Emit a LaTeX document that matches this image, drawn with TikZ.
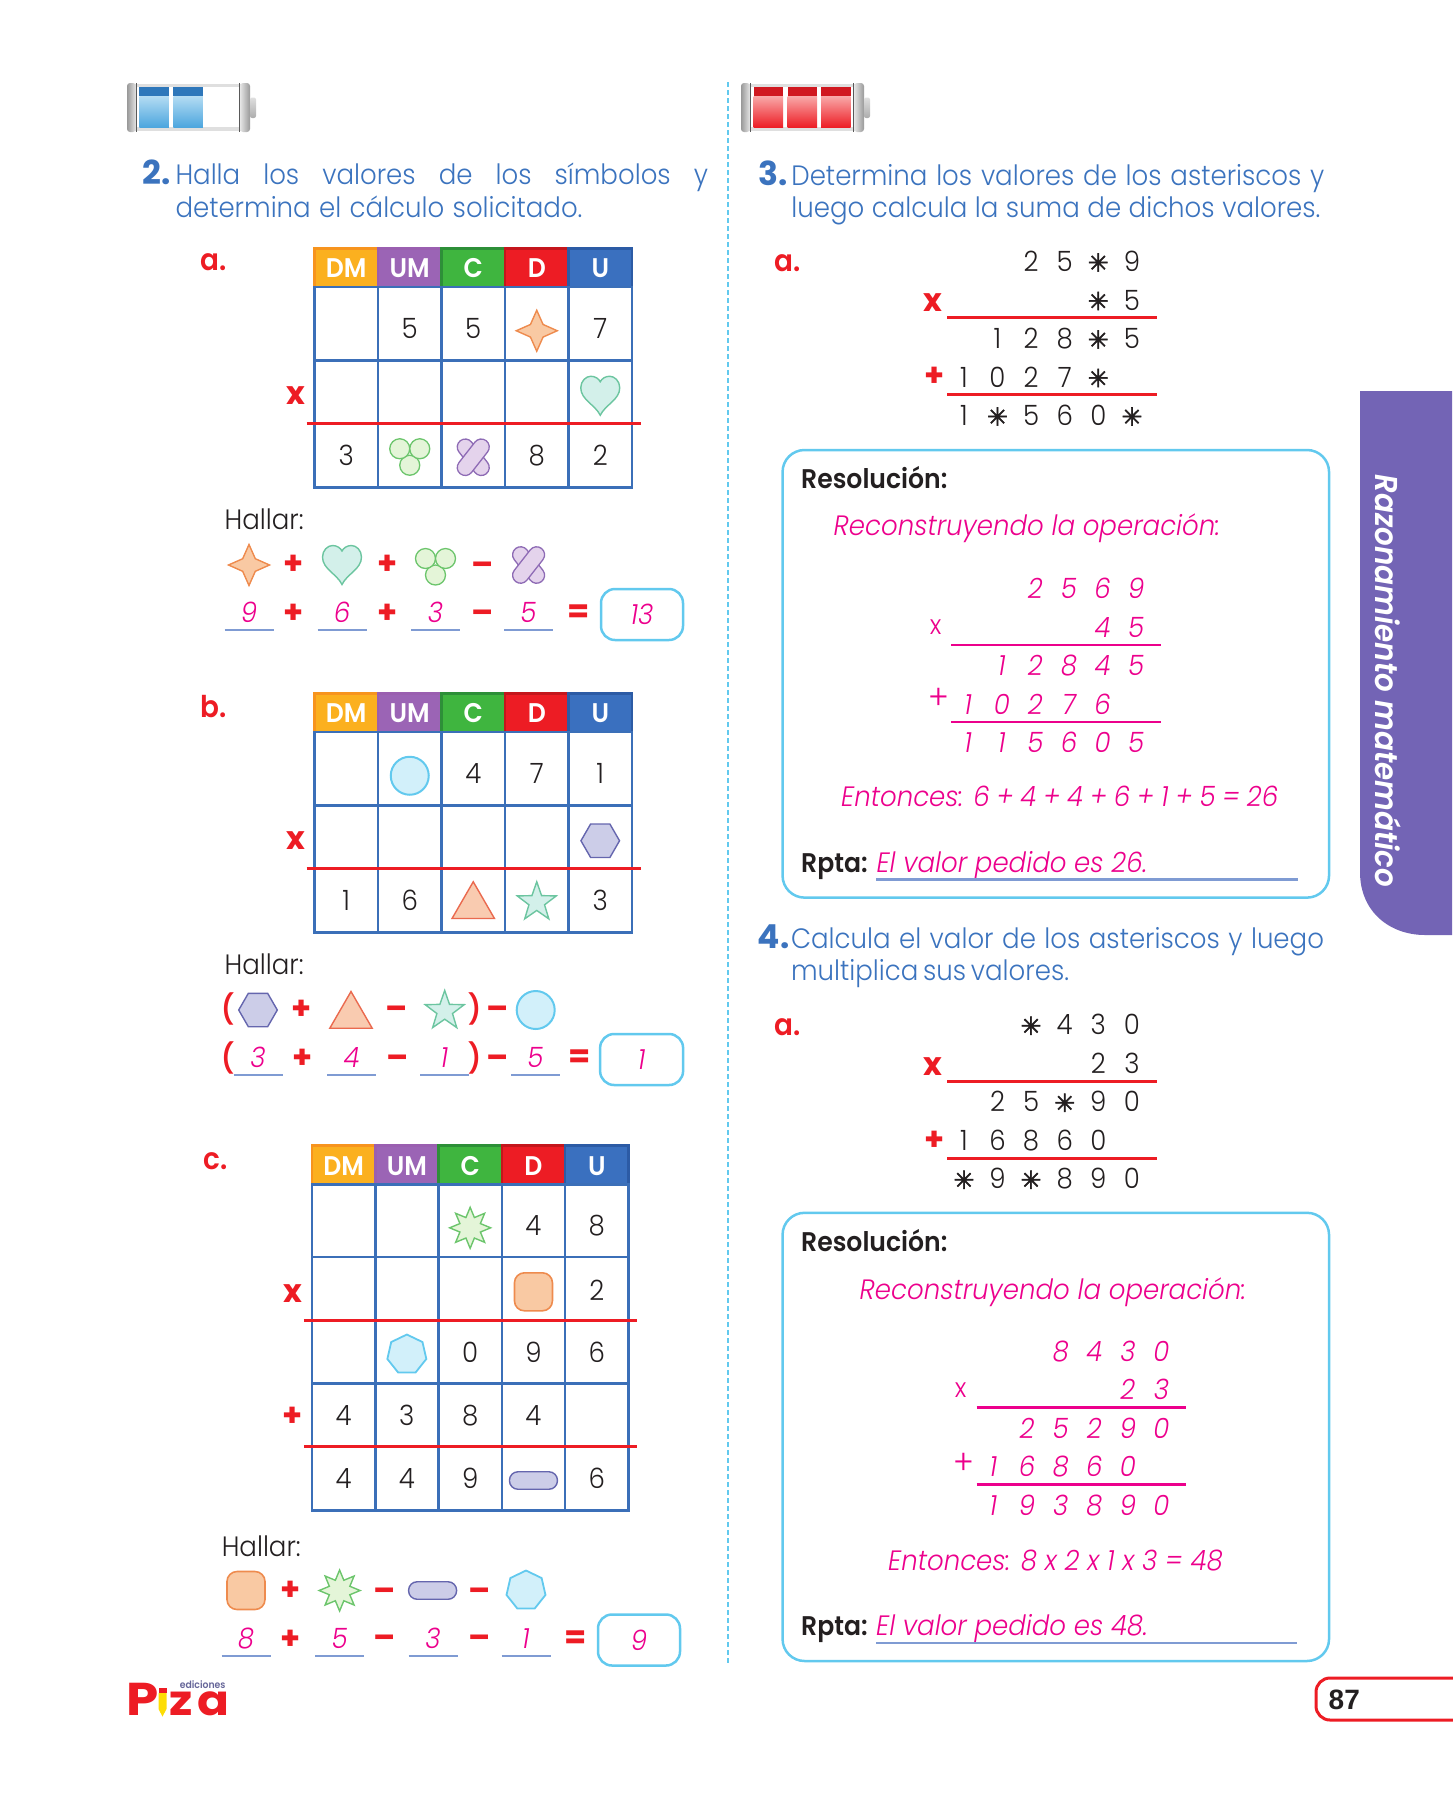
\documentclass[tikz,border=0pt]{standalone}
\usepackage{fontspec}
\setmainfont{Poppins Light}[FakeStretch=0.93,BoldFont={Poppins SemiBold},ItalicFont={Poppins Light Italic},BoldItalicFont={Poppins SemiBold Italic}]
\newfontfamily\symfont{DejaVu Sans}[FakeBold=2.2]
\newfontfamily\numfont{Liberation Sans}
\newfontfamily\opfont{Poppins Bold}
\newfontfamily\logofont{Poppins Bold}[FakeStretch=1.12]
\usepackage{xcolor}
\usetikzlibrary{matrix,shapes.geometric,positioning}
\definecolor{pizaRed}{HTML}{ED1C24}
\definecolor{pizaPink}{HTML}{EC008C}
\definecolor{pizaBlue}{HTML}{3B73BE}
\definecolor{gridBlue}{HTML}{3B6FB8}
\definecolor{pizaCyan}{HTML}{62C9EE}
\definecolor{blankBlue}{HTML}{7F9BD3}
\definecolor{inkDark}{HTML}{231F20}
\definecolor{tabPurple}{HTML}{7364B5}
\definecolor{orangeSoft}{HTML}{F9C9A3}
\definecolor{orangeLine}{HTML}{EE8B4E}
\definecolor{tealSoft}{HTML}{D3F0EA}
\definecolor{tealLine}{HTML}{6CC5A0}
\definecolor{limeSoft}{HTML}{E4F5D8}
\definecolor{limeLine}{HTML}{6CC56C}
\definecolor{lilacSoft}{HTML}{E4D3EC}
\definecolor{lilacLine}{HTML}{8E6BB5}
\definecolor{cyanSoft}{HTML}{D2F0FA}
\definecolor{slateSoft}{HTML}{CCCDE8}
\definecolor{slateLine}{HTML}{6566AE}
\definecolor{coralSoft}{HTML}{F9CBB0}
\definecolor{coralLine}{HTML}{EA6A4F}
\definecolor{dmFill}{HTML}{FBB01F}
\definecolor{dmLine}{HTML}{F7941E}
\definecolor{umFill}{HTML}{9B64B5}
\definecolor{umLine}{HTML}{9A5FB0}
\definecolor{cFill}{HTML}{3FB53F}
\definecolor{cLine}{HTML}{2D8F38}
\definecolor{dLine}{HTML}{C4161C}
\definecolor{uFill}{HTML}{3A70BF}
\definecolor{uLine}{HTML}{2C5BA5}
\definecolor{chargeBlue}{HTML}{2E77BA}
\definecolor{chargeBluePale}{HTML}{B4DCF3}
\definecolor{chargeBlueMid}{HTML}{4BA5DE}
\definecolor{chargeRed}{HTML}{D01820}
\definecolor{chargeRedPale}{HTML}{F9A9A9}
\newcommand{\astk}{{\symfont\fontsize{25}{25}\selectfont ✳}}
\begin{document}
\begin{tikzpicture}
      [x=1pt, y=-1pt,
      text line/.style={anchor=base west, inner sep=0pt, outer sep=0pt, text=pizaBlue, font=\fontsize{28}{33}\selectfont},
      task num/.style={anchor=base west, inner sep=0pt, text=pizaBlue, font=\opfont\fontsize{33}{33}\selectfont},
      part label/.style={inner sep=0pt, text=pizaRed, font=\bfseries\fontsize{30}{30}\selectfont},
      table grid/.style={matrix of nodes, nodes in empty cells, anchor=north west, inner sep=0pt, row sep=-2.6pt, column sep=-2.6pt,
        nodes={draw=gridBlue, line width=2.6pt, inner sep=0pt, outer sep=0pt, minimum width=#1, text height=20pt, text depth=0pt, text=inkDark, font=\fontsize{28}{28}\selectfont}},
      head cell/.style={text=white, font=\bfseries\fontsize{27}{27}\selectfont},
      head dm/.style={head cell, fill=dmFill, draw=dmLine},
      head um/.style={head cell, fill=umFill, draw=umLine},
      head c/.style={head cell, fill=cFill, draw=cLine},
      head d/.style={head cell, fill=pizaRed, draw=dLine},
      head u/.style={head cell, fill=uFill, draw=uLine},
      table rule/.style={draw=pizaRed, line width=3pt},
      op sign/.style={inner sep=0pt, yshift=-2pt, text=pizaRed, font=\opfont\fontsize{32}{32}\selectfont},
      dash sign/.style={op sign, yshift=-2pt},
      paren sign/.style={inner sep=0pt, text=pizaRed, font=\bfseries\fontsize{29}{29}\selectfont},
      blank value/.style={anchor=south, inner xsep=0pt, inner ysep=7.5pt, outer sep=0pt, minimum width=49pt, text height=20pt, text depth=0pt, text=pizaPink, font=\itshape\fontsize{28}{28}\selectfont,
        append after command={(\tikzlastnode.south west) edge[draw=blankBlue, line width=2.4pt] (\tikzlastnode.south east)}},
      answer box/.style={draw=pizaCyan, line width=2.5pt, rounded corners=14pt, minimum width=82pt, minimum height=51pt, inner sep=0pt, text height=20pt, text depth=0pt, text=pizaPink, font=\itshape\fontsize{28}{28}\selectfont},
      mult grid/.style={matrix of nodes, nodes in empty cells, anchor=north west, inner sep=0pt, row sep=0pt, column sep=0pt,
        nodes={inner sep=0pt, outer sep=0pt, minimum width=33.6pt, minimum height=38.5pt, text height=19pt, text depth=0pt, text=#1, font=\fontsize{28}{28}\selectfont}},
      pink grid/.style={mult grid=pizaPink, nodes={font=\itshape\fontsize{28}{28}\selectfont}},
      pink rule/.style={draw=pizaPink, line width=2.2pt},
      pink sign/.style={inner sep=0pt, text=pizaPink, font=\fontsize{34}{34}\selectfont},
      pink times/.style={inner sep=0pt, text=pizaPink, font=\fontsize{27}{27}\selectfont},
      res box/.style={draw=pizaCyan, line width=2.5pt, rounded corners=22pt, minimum width=546.5pt, inner sep=0pt},
      res head/.style={anchor=base west, inner sep=0pt, text=inkDark, font=\bfseries\fontsize{27}{27}\selectfont},
      res pink/.style={anchor=base west, inner sep=0pt, text=pizaPink, font=\itshape\fontsize{28}{28}\selectfont},
      hallar text/.style={anchor=base west, inner sep=0pt, text=inkDark, font=\fontsize{28}{28}\selectfont},
      sym four/.style={star, star points=4, star point ratio=2.3, minimum size=41pt, inner sep=0pt, draw=orangeLine, fill=orangeSoft, line width=1.4pt},
      sym circle/.style={circle, minimum size=38pt, inner sep=0pt, draw=pizaCyan, fill=cyanSoft, line width=2pt},
      sym hexa/.style={regular polygon, regular polygon sides=6, minimum size=38.6pt, inner sep=0pt, draw=slateLine, fill=slateSoft, line width=1.4pt},
      sym tri/.style={regular polygon, regular polygon sides=3, minimum size=49pt, inner sep=0pt, draw=coralLine, fill=coralSoft, line width=1.4pt},
      sym star/.style={star, star points=5, star point ratio=2.5, minimum size=41pt, inner sep=0pt, draw=tealLine, fill=tealSoft, line width=1.4pt},
      sym burst/.style={star, star points=8, star point ratio=1.85, minimum size=41pt, inner sep=0pt, draw=limeLine, fill=limeSoft, line width=1.4pt},
      sym square/.style={rectangle, rounded corners=10pt, minimum size=38pt, inner sep=0pt, draw=orangeLine, fill=orangeSoft, line width=1.6pt},
      sym hepta/.style={regular polygon, regular polygon sides=7, minimum size=40pt, inner sep=0pt, draw=pizaCyan, fill=cyanSoft, line width=1.8pt},
      sym pill/.style={rectangle, rounded corners=8.5pt, minimum width=48pt, minimum height=17.5pt, inner sep=0pt, draw=slateLine, fill=slateSoft, line width=1.4pt},
      pics/heart/.style={code={
        \draw[draw=tealLine, fill=tealSoft, line width=1.4pt] (0,19.5) .. controls (-5,9) and (-19.5,4) .. (-19.5,-8) .. controls (-19.5,-15) and (-14,-19.5) .. (-9.5,-19.5) .. controls (-5,-19.5) and (-1.5,-17) .. (0,-14) .. controls (1.5,-17) and (5,-19.5) .. (9.5,-19.5) .. controls (14,-19.5) and (19.5,-15) .. (19.5,-8) .. controls (19.5,4) and (5,9) .. (0,19.5) -- cycle;
      }},
      pics/trefoil/.style={code={
        \draw[draw=limeLine, fill=limeSoft, line width=1.3pt] (0,10) circle (10);
        \draw[draw=limeLine, fill=limeSoft, line width=1.3pt] (-10,-6.5) circle (10);
        \draw[draw=limeLine, fill=limeSoft, line width=1.3pt] (10,-6.5) circle (10);
      }},
      pics/crossband/.style={code={
        \draw[draw=lilacLine, fill=lilacSoft, line width=1.3pt, rotate=-52, rounded corners=8pt] (-21,-8) rectangle (21,8);
        \draw[draw=lilacLine, fill=lilacSoft, line width=1.3pt, rotate=52, rounded corners=8pt] (-21,-8) rectangle (21,8);
      }},
      pics/battery/.style={code={
        \fill[gray!25] (8,1) rectangle (114,48);
        \fill[white] (8,4) rectangle (114,44);
        \shade[left color=gray!80, right color=gray!20, rounded corners=3pt] (0,0) rectangle (9,49);
        \draw[gray!70!black, line width=1.2pt] (9.5,0) -- (9.5,49);
        \shade[left color=gray!20, right color=gray!80, rounded corners=3pt] (113,0) rectangle (123,49);
        \draw[gray!70!black, line width=1.2pt] (112.5,0) -- (112.5,49);
        \shade[top color=gray!25, bottom color=gray!65, rounded corners=2pt] (123,14.5) rectangle (129,35);
      }},
      pics/charge/.style args={#1/#2/#3}{code={
        \fill[#1] (0,0) rectangle (29.5,9);
        \shade[top color=#2, middle color=#3, bottom color=#3] (0,9) rectangle (29.5,40.5);
      }}
      ]
    \useasboundingbox (0,0) rectangle (1452,1800);

    \fill[tabPurple] (1452,391) -- (1360,391) -- (1360,872) .. controls (1360,912) and (1390,935) .. (1425,935) -- (1452,935) -- cycle;
    \node[rotate=-90, inner sep=0pt, text=white, font=\bfseries\itshape\fontsize{31.6}{32}\selectfont] (tabTitle) at (1388,681) {Razonamiento matemático};

    \draw[pizaCyan, line width=2pt, dash pattern=on 5pt off 3pt] (728,82) -- (728,1664);

    \pic at (127,83) {battery};
    \pic at (139.3,87) {charge={chargeBlue/chargeBluePale/chargeBlueMid}};
    \pic at (173.3,87) {charge={chargeBlue/chargeBluePale/chargeBlueMid}};
    \pic at (741,83) {battery};
    \pic at (753.5,87) {charge={chargeRed/chargeRedPale/pizaRed}};
    \pic at (787.5,87) {charge={chargeRed/chargeRedPale/pizaRed}};
    \pic at (821.2,87) {charge={chargeRed/chargeRedPale/pizaRed}};

    \node[task num] (numTwo) at (142,184) {2.};
    \node[text line] (taskTwoA) at (175.5,184) {\makebox[532.5pt][s]{Halla los valores de los símbolos y}};
    \node[text line] (taskTwoB) at (175.5,217) {\makebox[407pt][s]{determina el cálculo solicitado.}};

    \node[part label] (partA) at (214,262) {a.};
    \matrix[table grid=63.5pt, row 1/.style={nodes={minimum height=38.5pt}}, row 2/.style={nodes={minimum height=73.5pt, text height=30pt}}, row 3/.style={nodes={minimum height=62.5pt}}, row 4/.style={nodes={minimum height=64.5pt}}] (tabA) at (313,247) {
      |[head dm]| DM & |[head um]| UM & |[head c]| C & |[head d]| D & |[head u]| U \\
      & 5 & 5 & & 7 \\
      & & & & \\
      3 & & & 8 & 2 \\
    };
    \node[sym four] (fourA) at ([yshift=-7pt]tabA-2-4) {};
    \pic at ([yshift=-4pt]tabA-3-5) {heart};
    \pic at (tabA-4-2) {trefoil};
    \pic at ([yshift=-2pt]tabA-4-3) {crossband};
    \draw[table rule] ([xshift=-8pt]tabA-4-1.north west) -- ([xshift=9pt]tabA-4-5.north east);
    \node[op sign] (timesA) at (296,394) {x};

    \node[hallar text] (hallarA) at (224.5,529) {Hallar:};
    \node[sym four] (fourAb) at (249,565) {};
    \node[op sign] (plusA) at (294,563) {+};
    \pic at (342,565) {heart};
    \node[op sign] (plusAb) at (388,563) {+};
    \pic at (435.5,565) {trefoil};
    \node[dash sign] (minusA) at (482.5,565) {–};
    \pic at (528.6,565) {crossband};
    \node[blank value] (valA) at (249,630) {9};
    \node[op sign] (plusAc) at (294,612) {+};
    \node[blank value] (valAb) at (342,630) {6};
    \node[op sign] (plusAd) at (388,612) {+};
    \node[blank value] (valAc) at (435.5,630) {3};
    \node[dash sign] (minusAb) at (482.5,613) {–};
    \node[blank value] (valAd) at (528.5,630) {5};
    \node[op sign] (equalA) at (579,612) {=};
    \node[answer box] (boxA) at (642,614.5) {13};

    \node[part label] (partB) at (214,707) {b.};
    \matrix[table grid=63.5pt, row 1/.style={nodes={minimum height=38.5pt}}, row 2/.style={nodes={minimum height=73.5pt, text height=30pt}}, row 3/.style={nodes={minimum height=62.5pt}}, row 4/.style={nodes={minimum height=64.5pt}}] (tabB) at (313,692) {
      |[head dm]| DM & |[head um]| UM & |[head c]| C & |[head d]| D & |[head u]| U \\
      & & 4 & 7 & 1 \\
      & & & & \\
      1 & 6 & & & 3 \\
    };
    \node[sym circle] (circB) at ([yshift=-7pt]tabB-2-2) {};
    \node[sym hexa] (hexB) at ([yshift=-4pt]tabB-3-5) {};
    \node[sym tri] (triB) at ([yshift=-6pt]tabB-4-3) {};
    \node[sym star] (starB) at ([yshift=-2pt]tabB-4-4) {};
    \draw[table rule] ([xshift=-8pt]tabB-4-1.north west) -- ([xshift=9pt]tabB-4-5.north east);
    \node[op sign] (timesB) at (296,839) {x};

    \node[hallar text] (hallarB) at (224.5,974) {Hallar:};
    \node[paren sign] (openB) at (228,1009) {(};
    \node[sym hexa] (hexBb) at (258,1010) {};
    \node[op sign] (plusB) at (301.7,1008) {+};
    \node[sym tri] (triBb) at (351,1016) {};
    \node[dash sign] (minusB) at (396.7,1009) {–};
    \node[sym star] (starBb) at (444.7,1011) {};
    \node[paren sign] (closeB) at (475,1009) {)};
    \node[dash sign] (minusBb) at (498,1009) {–};
    \node[sym circle] (circBb) at (535.7,1010) {};
    \node[paren sign] (openBb) at (228,1058) {(};
    \node[blank value] (valB) at (258,1075) {3};
    \node[op sign] (plusBb) at (302.7,1057) {+};
    \node[blank value] (valBb) at (351.5,1075) {4};
    \node[dash sign] (minusBc) at (397.7,1058) {–};
    \node[blank value] (valBc) at (444.5,1075) {1};
    \node[paren sign] (closeBb) at (475,1058) {)};
    \node[dash sign] (minusBd) at (498,1058) {–};
    \node[blank value] (valBd) at (535.5,1075) {5};
    \node[op sign] (equalB) at (579.7,1057) {=};
    \node[answer box, minimum width=83pt] (boxB) at (641.6,1059.5) {1};

    \node[part label] (partC) at (216,1161) {c.};
    \matrix[table grid=63.3pt, row 1/.style={nodes={minimum height=39pt}}, row 2/.style={nodes={minimum height=72.6pt, text height=30pt}}, row 3/.style={nodes={minimum height=63.4pt, text height=24pt}}, row 4/.style={nodes={minimum height=63pt}}, row 5/.style={nodes={minimum height=63pt}}, row 6/.style={nodes={minimum height=64pt}}] (tabC) at (310.4,1144) {
      |[head dm]| DM & |[head um]| UM & |[head c]| C & |[head d]| D & |[head u]| U \\
      & & & 4 & 8 \\
      & & & & 2 \\
      & & 0 & 9 & 6 \\
      4 & 3 & 8 & 4 & \\
      4 & 4 & 9 & & 6 \\
    };
    \node[sym burst] (burstC) at ([yshift=-7pt]tabC-2-3) {};
    \node[sym square] (squareC) at ([yshift=-3pt]tabC-3-4) {};
    \node[sym hepta] (heptaC) at ([yshift=-2.5pt]tabC-4-2) {};
    \node[sym pill] (pillC) at ([yshift=-2pt]tabC-6-4) {};
    \draw[table rule] ([xshift=-8pt]tabC-4-1.north west) -- ([xshift=9pt]tabC-4-5.north east);
    \draw[table rule] ([xshift=-8pt]tabC-6-1.north west) -- ([xshift=9pt]tabC-6-5.north east);
    \node[op sign] (timesC) at (292.6,1292) {x};
    \node[op sign] (plusC) at (292.6,1415) {+};

    \node[hallar text] (hallarC) at (221.6,1556) {Hallar:};
    \node[sym square] (squareCb) at (246,1590.5) {};
    \node[op sign] (plusCb) at (290.6,1589) {+};
    \node[sym burst] (burstCb) at (339.6,1590.5) {};
    \node[dash sign] (minusC) at (385,1590.5) {–};
    \node[sym pill] (pillCb) at (432.6,1590.5) {};
    \node[dash sign] (minusCb) at (479.6,1590.5) {–};
    \node[sym hepta] (heptaCb) at (526,1590.5) {};
    \node[blank value] (valC) at (246,1656) {8};
    \node[op sign] (plusCc) at (290.6,1638) {+};
    \node[blank value] (valCb) at (339.6,1656) {5};
    \node[dash sign] (minusCc) at (385,1638) {–};
    \node[blank value] (valCc) at (433,1656) {3};
    \node[dash sign] (minusCd) at (479.6,1638) {–};
    \node[blank value] (valCd) at (526,1656) {1};
    \node[op sign] (equalC) at (576,1638) {=};
    \node[answer box] (boxC) at (639,1640) {9};

    \node[anchor=base west, inner sep=0pt, text=pizaRed, font=\logofont\fontsize{46}{46}\selectfont] (logoP) at (126,1715) {P};
    \node[anchor=base west, inner sep=0pt, text=pizaRed, font=\logofont\fontsize{42}{42}\selectfont] (logoZ) at (169,1715) {z};
    \node[anchor=base west, inner sep=0pt, text=pizaRed, font=\logofont\fontsize{42}{42}\selectfont] (logoA) at (197,1715) {a};
    \node[anchor=base east, inner sep=0pt, text=gray!80!blue, font=\bfseries\fontsize{10}{10}\selectfont] (logoEd) at (225.7,1688) {ediciones};
    \fill[yellow!80!orange] (158.5,1693) rectangle (166.5,1709) -- (162.5,1716.5) -- (158.5,1709) -- cycle;
    \fill[pizaRed] (158.5,1688) rectangle (166.5,1693);

    \node[task num] (numThree) at (758,185) {3.};
    \node[text line] (taskThreeA) at (791.4,185) {\makebox[533pt][s]{Determina los valores de los asteriscos y}};
    \node[text line] (taskThreeB) at (791.4,217.4) {\makebox[529pt][s]{luego calcula la suma de dichos valores.}};
    \node[part label] (partThree) at (788,263) {a.};
    \matrix[mult grid=inkDark] (multThree) at (946.9,242.75) {
      & & 2 & 5 & \astk & 9 \\
      & & & & \astk & 5 \\
      & 1 & 2 & 8 & \astk & 5 \\
      1 & 0 & 2 & 7 & \astk & \\
      1 & \astk & 5 & 6 & 0 & \astk \\
    };
    \draw[table rule] ([yshift=2.5pt]multThree-3-1.north west) -- ([yshift=2.5pt, xshift=8pt]multThree-3-6.north east);
    \draw[table rule] ([yshift=2.5pt]multThree-5-1.north west) -- ([yshift=2.5pt, xshift=8pt]multThree-5-6.north east);
    \node[op sign] (timesThree) at (932.4,301) {x};
    \node[op sign] (plusThree) at (934.8,375) {+};

    \node[res box, minimum height=447.6pt] (resThree) at (1055.8,673.8) {};
    \node[res head] (resHeadThree) at (801,488) {Resolución:};
    \node[res pink] (recThree) at (833.4,535) {Reconstruyendo la operación:};
    \matrix[pink grid] (pinkThree) at (951.2,569.55) {
      & & 2 & 5 & 6 & 9 \\
      & & & & 4 & 5 \\
      & 1 & 2 & 8 & 4 & 5 \\
      1 & 0 & 2 & 7 & 6 & \\
      1 & 1 & 5 & 6 & 0 & 5 \\
    };
    \draw[pink rule] ([yshift=2pt]pinkThree-3-1.north west) -- ([yshift=2pt, xshift=8pt]pinkThree-3-6.north east);
    \draw[pink rule] ([yshift=2pt]pinkThree-5-1.north west) -- ([yshift=2pt, xshift=8pt]pinkThree-5-6.north east);
    \node[pink times] (timesPinkThree) at (935.7,626.7) {x};
    \node[pink sign] (plusPinkThree) at (938.5,699) {+};
    \node[res pink] (thenThree) at (841,806) {\makebox[437pt][s]{Entonces: 6 + 4 + 4 + 6 + 1 + 5 = 26}};
    \node[res head] (rptaThree) at (801,872) {Rpta:};
    \node[res pink] (ansThree) at (876.4,872) {El valor pedido es 26.};
    \coordinate (ansThreeEnd) at (1297.5,879.5);
    \draw[draw=blankBlue, line width=2.2pt] (876.4,879.5) -- (ansThreeEnd);

    \node[task num] (numFour) at (757.6,948) {4.};
    \node[text line] (taskFourA) at (791,948) {\makebox[533pt][s]{Calcula el valor de los asteriscos y luego}};
    \node[text line] (taskFourB) at (791,980) {\makebox[275pt][s]{multiplica sus valores.}};
    \node[part label] (partFour) at (787.6,1027) {a.};
    \matrix[mult grid=inkDark] (multFour) at (946.9,1006) {
      & & \astk & 4 & 3 & 0 \\
      & & & & 2 & 3 \\
      & 2 & 5 & \astk & 9 & 0 \\
      1 & 6 & 8 & 6 & 0 & \\
      \astk & 9 & \astk & 8 & 9 & 0 \\
    };
    \draw[table rule] ([yshift=2pt]multFour-3-1.north west) -- ([yshift=2pt, xshift=8pt]multFour-3-6.north east);
    \draw[table rule] ([yshift=2pt]multFour-5-1.north west) -- ([yshift=2pt, xshift=8pt]multFour-5-6.north east);
    \node[op sign] (timesFour) at (932.6,1064.5) {x};
    \node[op sign] (plusFour) at (935,1139) {+};

    \node[res box, minimum height=448.2pt] (resFour) at (1055.8,1436.9) {};
    \node[res head] (resHeadFour) at (801,1251) {Resolución:};
    \node[res pink] (recFour) at (859.4,1299) {Reconstruyendo la operación:};
    \matrix[pink grid] (pinkFour) at (976.5,1332.25) {
      & & 8 & 4 & 3 & 0 \\
      & & & & 2 & 3 \\
      & 2 & 5 & 2 & 9 & 0 \\
      1 & 6 & 8 & 6 & 0 & \\
      1 & 9 & 3 & 8 & 9 & 0 \\
    };
    \draw[pink rule] ([yshift=2pt]pinkFour-3-1.north west) -- ([yshift=2pt, xshift=8pt]pinkFour-3-6.north east);
    \draw[pink rule] ([yshift=2pt]pinkFour-5-1.north west) -- ([yshift=2pt, xshift=8pt]pinkFour-5-6.north east);
    \node[pink times] (timesPinkFour) at (960.7,1390.6) {x};
    \node[pink sign] (plusPinkFour) at (963.9,1464) {+};
    \node[res pink] (thenFour) at (888,1570.6) {\makebox[334.6pt][s]{Entonces: 8 x 2 x 1 x 3 = 48}};
    \node[res head] (rptaFour) at (801,1635.4) {Rpta:};
    \node[res pink] (ansFour) at (876,1635.4) {El valor pedido es 48.};
    \coordinate (ansFourEnd) at (1297,1643);
    \draw[draw=blankBlue, line width=2.2pt] (876,1643) -- (ansFourEnd);

    \draw[pizaRed, line width=3pt, rounded corners=14pt] (1460,1678) -- (1316,1678) -- (1316,1720) -- (1460,1720);
    \node[anchor=base west, inner sep=0pt, text=inkDark, font=\numfont\bfseries\fontsize{28}{28}\selectfont] (pageNum) at (1328.5,1709) {87};
    \end{tikzpicture}
\end{document}
